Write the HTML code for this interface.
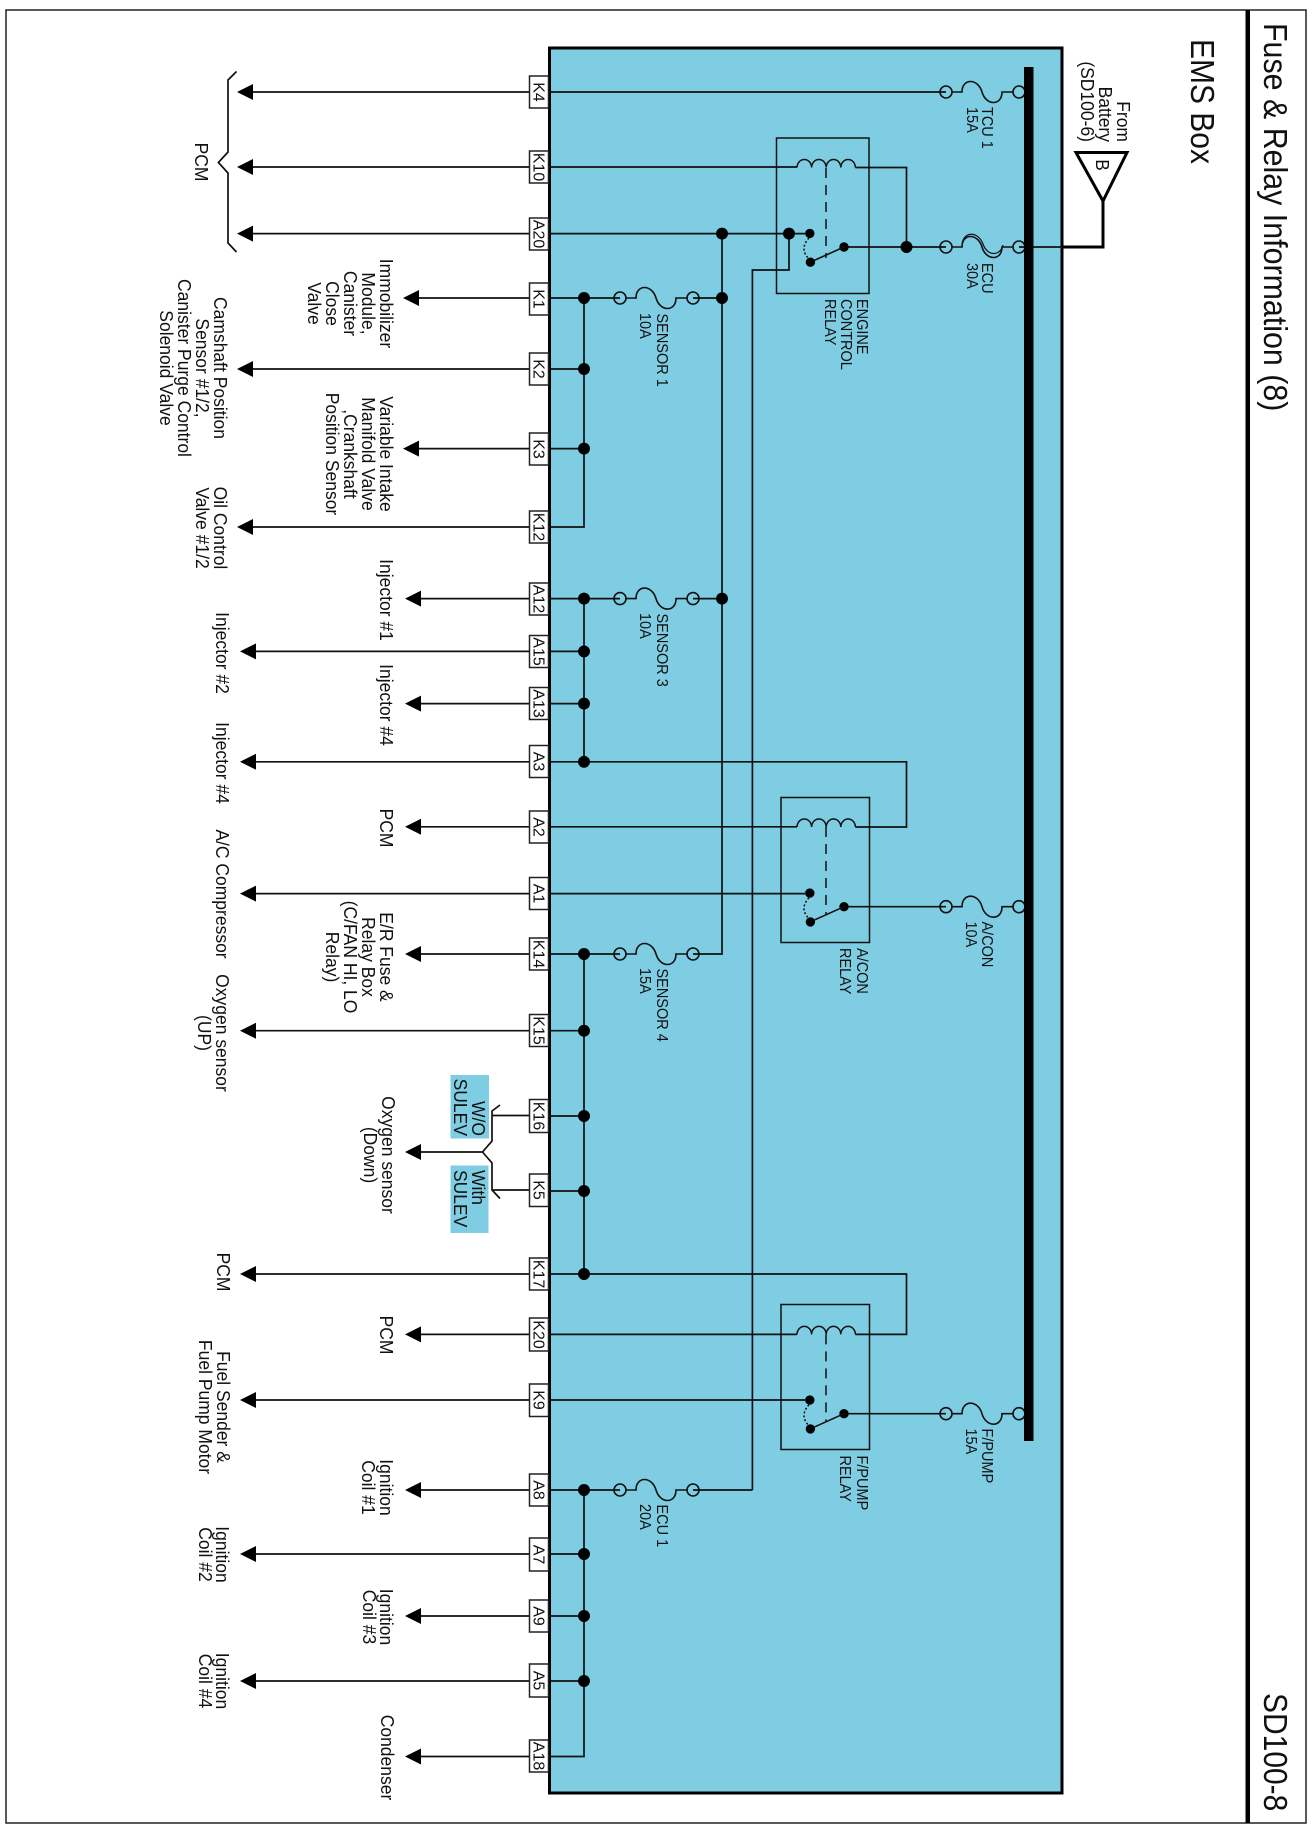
<!DOCTYPE html>
<html><head><meta charset="utf-8"><style>
html,body{margin:0;padding:0;background:#fff}
svg{display:block}
text{font-family:"Liberation Sans",Arial,sans-serif;fill:#111}
.l{font-size:17.5px}.s{font-size:14.5px}.t{font-size:16px;text-anchor:middle}
.m{text-anchor:middle}.e{text-anchor:end}
.w{fill:none;stroke:#111;stroke-width:1.7}
</style></head><body>
<svg width="1314" height="1830" viewBox="0 0 1314 1830" xmlns="http://www.w3.org/2000/svg">
<defs>
<g id="f" fill="none" stroke="#111" stroke-width="1.6"><circle cx="0" cy="0" r="6"/><circle cx="73" cy="0" r="6"/><path d="M6 0H16C16 -14 32 -14 36 0C40 14 56 14 56 0H67"/></g>
<path id="c" fill="none" stroke="#111" stroke-width="1.5" d="M0 0A7.3 8 0 0 1 14.6 0A7.3 8 0 0 1 29.2 0A7.3 8 0 0 1 43.8 0A7.3 8 0 0 1 58.4 0"/>
<g id="sw"><circle cx="-34.2" cy="-13.6" r="4.7" fill="#000"/><circle cx="-33.6" cy="15.2" r="4.7" fill="#000"/><circle cx="0" cy="0" r="4.7" fill="#000"/><path fill="none" stroke="#111" stroke-width="1.6" d="M0 0L-30 13.5"/><path fill="none" stroke="#111" stroke-width="1.5" stroke-dasharray="2 2" d="M-35 -9Q-45 2 -35 12"/></g>
<path id="d" d="M0 -6A6 6 0 1 0 0.01 -6Z" fill="#000"/>
<path id="al" d="M0 0L16 -8V8Z" fill="#000"/>
</defs>

<!-- frame -->
<rect x="6" y="10" width="1300" height="1813" fill="#fff" stroke="#222" stroke-width="1.5"/>
<rect x="1245.5" y="10" width="4.5" height="1813" fill="#000"/>
<text transform="matrix(0 1 -1.1 0 1264 23)" style="font-size:30.4px">Fuse &amp; Relay Information (8)</text>
<text transform="matrix(0 1 -1.1 0 1264 1693)" style="font-size:30px">SD100-8</text>
<text transform="matrix(0 1 -1.1 0 1191 39)" style="font-size:30px">EMS Box</text>

<!-- blue box -->
<rect x="549.5" y="48" width="512.5" height="1745" fill="#7fcde3" stroke="#000" stroke-width="3"/>

<!-- wires -->
<g class="w">
<path d="M253 92H946"/>
<path d="M253 167H797M855.4 167.5H906.5V247"/>
<path d="M253 233.6H805M789 233.6V270H752.4V1490"/>
<path d="M419 298H620M693 298H722"/>
<path d="M722 233.6V954H693"/>
<path d="M253 369H584M419 448.6H584M253 527H584V298"/>
<path d="M421 598.6H620M693 598.6H722"/>
<path d="M256 651.4H584M421 703.6H584"/>
<path d="M256 761.8H906.5V827H855.4"/>
<path d="M584 598.6V761.8"/>
<path d="M421 826.8H797"/>
<path d="M256 893.6H805"/>
<path d="M421 954H620"/>
<path d="M256 1030.7H584"/>
<path d="M584 954V1274"/>
<path d="M548 1116H584M548 1191H584"/>
<path d="M256 1274H906.5V1334.4H855.4"/>
<path d="M421 1334.4H797"/>
<path d="M256 1400H805"/>
<path d="M421 1490H620M693 1490H752.4"/>
<path d="M256 1554H584M421 1616H584M256 1681H584M421 1756.5H584V1490"/>
<path d="M844 247H946M1019 247H1062"/>
<path d="M844 906.7H946"/>
<path d="M844 1413.7H946"/>
<!-- brace PCM -->
<path d="M236.5 71.5L228 80V152L218.4 162.5L228 173V243L236.5 252"/>
<!-- SULEV brace -->
<path d="M421 1152H482.5L492 1141V1111L500 1105M482.5 1152L492 1163V1190L500 1198.5M492 1115.5H530M492 1190H530"/>
</g>

<!-- relay boxes -->
<g fill="none" stroke="#111" stroke-width="1.5">
<rect x="776.5" y="138" width="92.5" height="155.5"/>
<rect x="781" y="797.5" width="88.5" height="145"/>
<rect x="781" y="1304.5" width="88.5" height="145"/>
<path stroke-dasharray="10 7" d="M826 168V258M826 827V915M826 1334.4V1422"/>
</g>
<use href="#c" x="797" y="167.5"/>
<use href="#c" x="797" y="827"/>
<use href="#c" x="797" y="1334.4"/>
<use href="#sw" x="844" y="247"/>
<use href="#sw" x="844" y="906.7"/>
<use href="#sw" x="844" y="1413.7"/>

<!-- fuses -->
<use href="#f" x="946" y="92"/>
<use href="#f" x="946" y="247"/>
<path fill="none" stroke="#111" stroke-width="1.2" d="M962 244C964 231 978 231 983 244C987 256 1000 257 1003 245"/>
<use href="#f" x="946" y="906.7"/>
<use href="#f" x="946" y="1413.7"/>
<use href="#f" x="620" y="298"/>
<use href="#f" x="620" y="598.6"/>
<use href="#f" x="620" y="954"/>
<use href="#f" x="620" y="1490"/>

<!-- bus -->
<rect x="1024" y="67" width="9.5" height="1374" fill="#000"/>

<!-- junctions -->
<use href="#d" x="584" y="298"/><use href="#d" x="584" y="369"/><use href="#d" x="584" y="448.6"/>
<use href="#d" x="722" y="233.6"/><use href="#d" x="789" y="233.6"/><use href="#d" x="722" y="298"/>
<use href="#d" x="906.5" y="247"/>
<use href="#d" x="584" y="598.6"/><use href="#d" x="722" y="598.6"/><use href="#d" x="584" y="651.4"/><use href="#d" x="584" y="703.6"/><use href="#d" x="584" y="761.8"/>
<use href="#d" x="584" y="954"/><use href="#d" x="584" y="1030.7"/><use href="#d" x="584" y="1116"/><use href="#d" x="584" y="1191"/><use href="#d" x="584" y="1274"/>
<use href="#d" x="584" y="1490"/><use href="#d" x="584" y="1554"/><use href="#d" x="584" y="1616"/><use href="#d" x="584" y="1681"/>

<!-- arrows -->
<use href="#al" x="237" y="92"/><use href="#al" x="237" y="167"/><use href="#al" x="237" y="233.6"/>
<use href="#al" x="403" y="298"/><use href="#al" x="237" y="369"/><use href="#al" x="403" y="448.6"/><use href="#al" x="237" y="527"/>
<use href="#al" x="405" y="598.6"/><use href="#al" x="240" y="651.4"/><use href="#al" x="405" y="703.6"/><use href="#al" x="240" y="761.8"/>
<use href="#al" x="405" y="826.8"/><use href="#al" x="240" y="893.6"/><use href="#al" x="405" y="954"/><use href="#al" x="240" y="1030.7"/>
<use href="#al" x="405" y="1152"/><use href="#al" x="240" y="1274"/><use href="#al" x="405" y="1334.4"/><use href="#al" x="240" y="1400"/>
<use href="#al" x="405" y="1490"/><use href="#al" x="240" y="1554"/><use href="#al" x="405" y="1616"/><use href="#al" x="240" y="1681"/><use href="#al" x="405" y="1756.5"/>

<!-- tabs -->
<g fill="#fff" stroke="#222" stroke-width="1.5">
<rect x="529.5" y="76" width="19" height="32"/><rect x="529.5" y="151" width="19" height="32"/><rect x="529.5" y="218" width="19" height="32"/>
<rect x="529.5" y="283" width="19" height="32"/><rect x="529.5" y="353" width="19" height="32"/><rect x="529.5" y="433" width="19" height="32"/><rect x="529.5" y="511" width="19" height="32"/>
<rect x="529.5" y="583" width="19" height="32"/><rect x="529.5" y="635.5" width="19" height="32"/><rect x="529.5" y="687.5" width="19" height="32"/><rect x="529.5" y="745.5" width="19" height="32"/>
<rect x="529.5" y="811" width="19" height="32"/><rect x="529.5" y="877.5" width="19" height="32"/><rect x="529.5" y="938" width="19" height="32"/><rect x="529.5" y="1014.5" width="19" height="32"/>
<rect x="529.5" y="1099.5" width="19" height="33"/><rect x="529.5" y="1174" width="19" height="32.5"/><rect x="529.5" y="1258" width="19" height="32"/><rect x="529.5" y="1318" width="19" height="33"/><rect x="529.5" y="1384" width="19" height="32.5"/>
<rect x="529.5" y="1474" width="19" height="32"/><rect x="529.5" y="1538" width="19" height="33"/><rect x="529.5" y="1600" width="19" height="32"/><rect x="529.5" y="1664" width="19" height="33"/><rect x="529.5" y="1740" width="19" height="32"/>
</g>
<g>
<text class="t" transform="matrix(0 1 -1 0 533.5 92)">K4</text>
<text class="t" transform="matrix(0 1 -1 0 533.5 167)">K10</text>
<text class="t" transform="matrix(0 1 -1 0 533.5 234)">A20</text>
<text class="t" transform="matrix(0 1 -1 0 533.5 299)">K1</text>
<text class="t" transform="matrix(0 1 -1 0 533.5 369)">K2</text>
<text class="t" transform="matrix(0 1 -1 0 533.5 449)">K3</text>
<text class="t" transform="matrix(0 1 -1 0 533.5 527)">K12</text>
<text class="t" transform="matrix(0 1 -1 0 533.5 599)">A12</text>
<text class="t" transform="matrix(0 1 -1 0 533.5 651.5)">A15</text>
<text class="t" transform="matrix(0 1 -1 0 533.5 703.5)">A13</text>
<text class="t" transform="matrix(0 1 -1 0 533.5 761.5)">A3</text>
<text class="t" transform="matrix(0 1 -1 0 533.5 827)">A2</text>
<text class="t" transform="matrix(0 1 -1 0 533.5 893.5)">A1</text>
<text class="t" transform="matrix(0 1 -1 0 533.5 954)">K14</text>
<text class="t" transform="matrix(0 1 -1 0 533.5 1030.5)">K15</text>
<text class="t" transform="matrix(0 1 -1 0 533.5 1116)">K16</text>
<text class="t" transform="matrix(0 1 -1 0 533.5 1190)">K5</text>
<text class="t" transform="matrix(0 1 -1 0 533.5 1274)">K17</text>
<text class="t" transform="matrix(0 1 -1 0 533.5 1334.5)">K20</text>
<text class="t" transform="matrix(0 1 -1 0 533.5 1400)">K9</text>
<text class="t" transform="matrix(0 1 -1 0 533.5 1490)">A8</text>
<text class="t" transform="matrix(0 1 -1 0 533.5 1554.5)">A7</text>
<text class="t" transform="matrix(0 1 -1 0 533.5 1616)">A9</text>
<text class="t" transform="matrix(0 1 -1 0 533.5 1680.5)">A5</text>
<text class="t" transform="matrix(0 1 -1 0 533.5 1756)">A18</text>
</g>

<!-- fuse labels -->
<g>
<text class="s" transform="matrix(0 1 -1.08 0 982 107)">TCU 1</text><text class="s" transform="matrix(0 1 -1.08 0 967 107)">15A</text>
<text class="s" transform="matrix(0 1 -1.08 0 982 263)">ECU</text><text class="s" transform="matrix(0 1 -1.08 0 967 263)">30A</text>
<text class="s" transform="matrix(0 1 -1.08 0 982 921.5)">A/CON</text><text class="s" transform="matrix(0 1 -1.08 0 966 921.5)">10A</text>
<text class="s" transform="matrix(0 1 -1.08 0 982 1428.5)">F/PUMP</text><text class="s" transform="matrix(0 1 -1.08 0 966 1428.5)">15A</text>
<text class="s" transform="matrix(0 1 -1.08 0 657 313.5)">SENSOR 1</text><text class="s" transform="matrix(0 1 -1.08 0 640 313)">10A</text>
<text class="s" transform="matrix(0 1 -1.08 0 657 613.5)">SENSOR 3</text><text class="s" transform="matrix(0 1 -1.08 0 640 613)">10A</text>
<text class="s" transform="matrix(0 1 -1.08 0 657 968.5)">SENSOR 4</text><text class="s" transform="matrix(0 1 -1.08 0 640 968)">15A</text>
<text class="s" transform="matrix(0 1 -1.08 0 657 1504.5)">ECU 1</text><text class="s" transform="matrix(0 1 -1.08 0 640 1504)">20A</text>
<text class="s" transform="matrix(0 1 -1.08 0 857 299)">ENGINE</text><text class="s" transform="matrix(0 1 -1.08 0 841 299)">CONTROL</text><text class="s" transform="matrix(0 1 -1.08 0 825 299)">RELAY</text>
<text class="s" transform="matrix(0 1 -1.08 0 857 948)">A/CON</text><text class="s" transform="matrix(0 1 -1.08 0 840 948)">RELAY</text>
<text class="s" transform="matrix(0 1 -1.08 0 857 1455.5)">F/PUMP</text><text class="s" transform="matrix(0 1 -1.08 0 840 1455.5)">RELAY</text>
</g>

<!-- battery -->
<path d="M1076 152.5H1127L1103 201Z" fill="none" stroke="#000" stroke-width="3"/>
<path d="M1103 201V247H1062" fill="none" stroke="#000" stroke-width="3"/>
<text class="l e" transform="matrix(0 1 -1.08 0 1117 142)">From</text>
<text class="l e" transform="matrix(0 1 -1.08 0 1099 142)">Battery</text>
<text class="l e" transform="matrix(0 1 -1.08 0 1081 142)">(SD100-6)</text>
<text class="l m" style="font-size:17px" transform="matrix(0 1 -1.08 0 1096 165)">B</text>

<!-- SULEV boxes -->
<rect x="450.5" y="1075" width="38.5" height="63.5" fill="#7fcde3"/>
<rect x="450.5" y="1165.5" width="38" height="67.5" fill="#7fcde3"/>
<text class="l e" transform="matrix(0 1 -1.08 0 472 1136)">W/O</text>
<text class="l e" transform="matrix(0 1 -1.08 0 454 1136)">SULEV</text>
<text class="l" transform="matrix(0 1 -1.08 0 472 1170)">With</text>
<text class="l" transform="matrix(0 1 -1.08 0 454 1170)">SULEV</text>

<!-- outside labels -->
<text class="l m" transform="matrix(0 1 -1.08 0 195 162)">PCM</text>
<text class="l m" transform="matrix(0 1 -1.08 0 380 303.5)">Immobilizer</text>
<text class="l m" transform="matrix(0 1 -1.08 0 362 303.5)">Module,</text>
<text class="l m" transform="matrix(0 1 -1.08 0 344 303.5)">Canister</text>
<text class="l m" transform="matrix(0 1 -1.08 0 326 303.5)">Close</text>
<text class="l m" transform="matrix(0 1 -1.08 0 308 303.5)">Valve</text>
<text class="l m" transform="matrix(0 1 -1.08 0 214 368)">Camshaft Position</text>
<text class="l m" transform="matrix(0 1 -1.08 0 196 368)">Sensor #1/2,</text>
<text class="l m" transform="matrix(0 1 -1.08 0 178 368)">Canister Purge Control</text>
<text class="l m" transform="matrix(0 1 -1.08 0 160 368)">Solenoid Valve</text>
<text class="l m" transform="matrix(0 1 -1.08 0 380 454)">Variable Intake</text>
<text class="l m" transform="matrix(0 1 -1.08 0 362 454)">Manifold Valve</text>
<text class="l m" transform="matrix(0 1 -1.08 0 344 454)">,Crankshaft</text>
<text class="l m" transform="matrix(0 1 -1.08 0 326 454)">Position Sensor</text>
<text class="l m" transform="matrix(0 1 -1.08 0 214 528)">Oil Control</text>
<text class="l m" transform="matrix(0 1 -1.08 0 196 528)">Valve #1/2</text>
<text class="l m" transform="matrix(0 1 -1.08 0 380 600)">Injector #1</text>
<text class="l m" transform="matrix(0 1 -1.08 0 216 653)">Injector #2</text>
<text class="l m" transform="matrix(0 1 -1.08 0 380 705)">Injector #4</text>
<text class="l m" transform="matrix(0 1 -1.08 0 216 763)">Injector #4</text>
<text class="l m" transform="matrix(0 1 -1.08 0 380 828)">PCM</text>
<text class="l m" transform="matrix(0 1 -1.08 0 216 894)">A/C Compressor</text>
<text class="l m" transform="matrix(0 1 -1.08 0 380 957)">E/R Fuse &amp;</text>
<text class="l m" transform="matrix(0 1 -1.08 0 362 957)">Relay Box</text>
<text class="l m" transform="matrix(0 1 -1.08 0 344 957)">(C/FAN HI, LO</text>
<text class="l m" transform="matrix(0 1 -1.08 0 326 957)">Relay)</text>
<text class="l m" transform="matrix(0 1 -1.08 0 216 1033)">Oxygen sensor</text>
<text class="l m" transform="matrix(0 1 -1.08 0 198 1033)">(UP)</text>
<text class="l m" transform="matrix(0 1 -1.08 0 382 1155)">Oxygen sensor</text>
<text class="l m" transform="matrix(0 1 -1.08 0 364 1155)">(Down)</text>
<text class="l m" transform="matrix(0 1 -1.08 0 217 1272)">PCM</text>
<text class="l m" transform="matrix(0 1 -1.08 0 380 1335)">PCM</text>
<text class="l m" transform="matrix(0 1 -1.08 0 217 1407)">Fuel Sender &amp;</text>
<text class="l m" transform="matrix(0 1 -1.08 0 199 1407)">Fuel Pump Motor</text>
<text class="l m" transform="matrix(0 1 -1.08 0 380 1487.5)">Ignition</text>
<text class="l m" transform="matrix(0 1 -1.08 0 362 1487.5)">Coil #1</text>
<text class="l m" transform="matrix(0 1 -1.08 0 216 1554.5)">Ignition</text>
<text class="l m" transform="matrix(0 1 -1.08 0 199 1554.5)">Coil #2</text>
<text class="l m" transform="matrix(0 1 -1.08 0 380 1617)">Ignition</text>
<text class="l m" transform="matrix(0 1 -1.08 0 363 1617)">Coil #3</text>
<text class="l m" transform="matrix(0 1 -1.08 0 216 1681)">Ignition</text>
<text class="l m" transform="matrix(0 1 -1.08 0 199 1681)">Coil #4</text>
<text class="l m" transform="matrix(0 1 -1.08 0 381 1757.5)">Condenser</text>
</svg>
</body></html>
